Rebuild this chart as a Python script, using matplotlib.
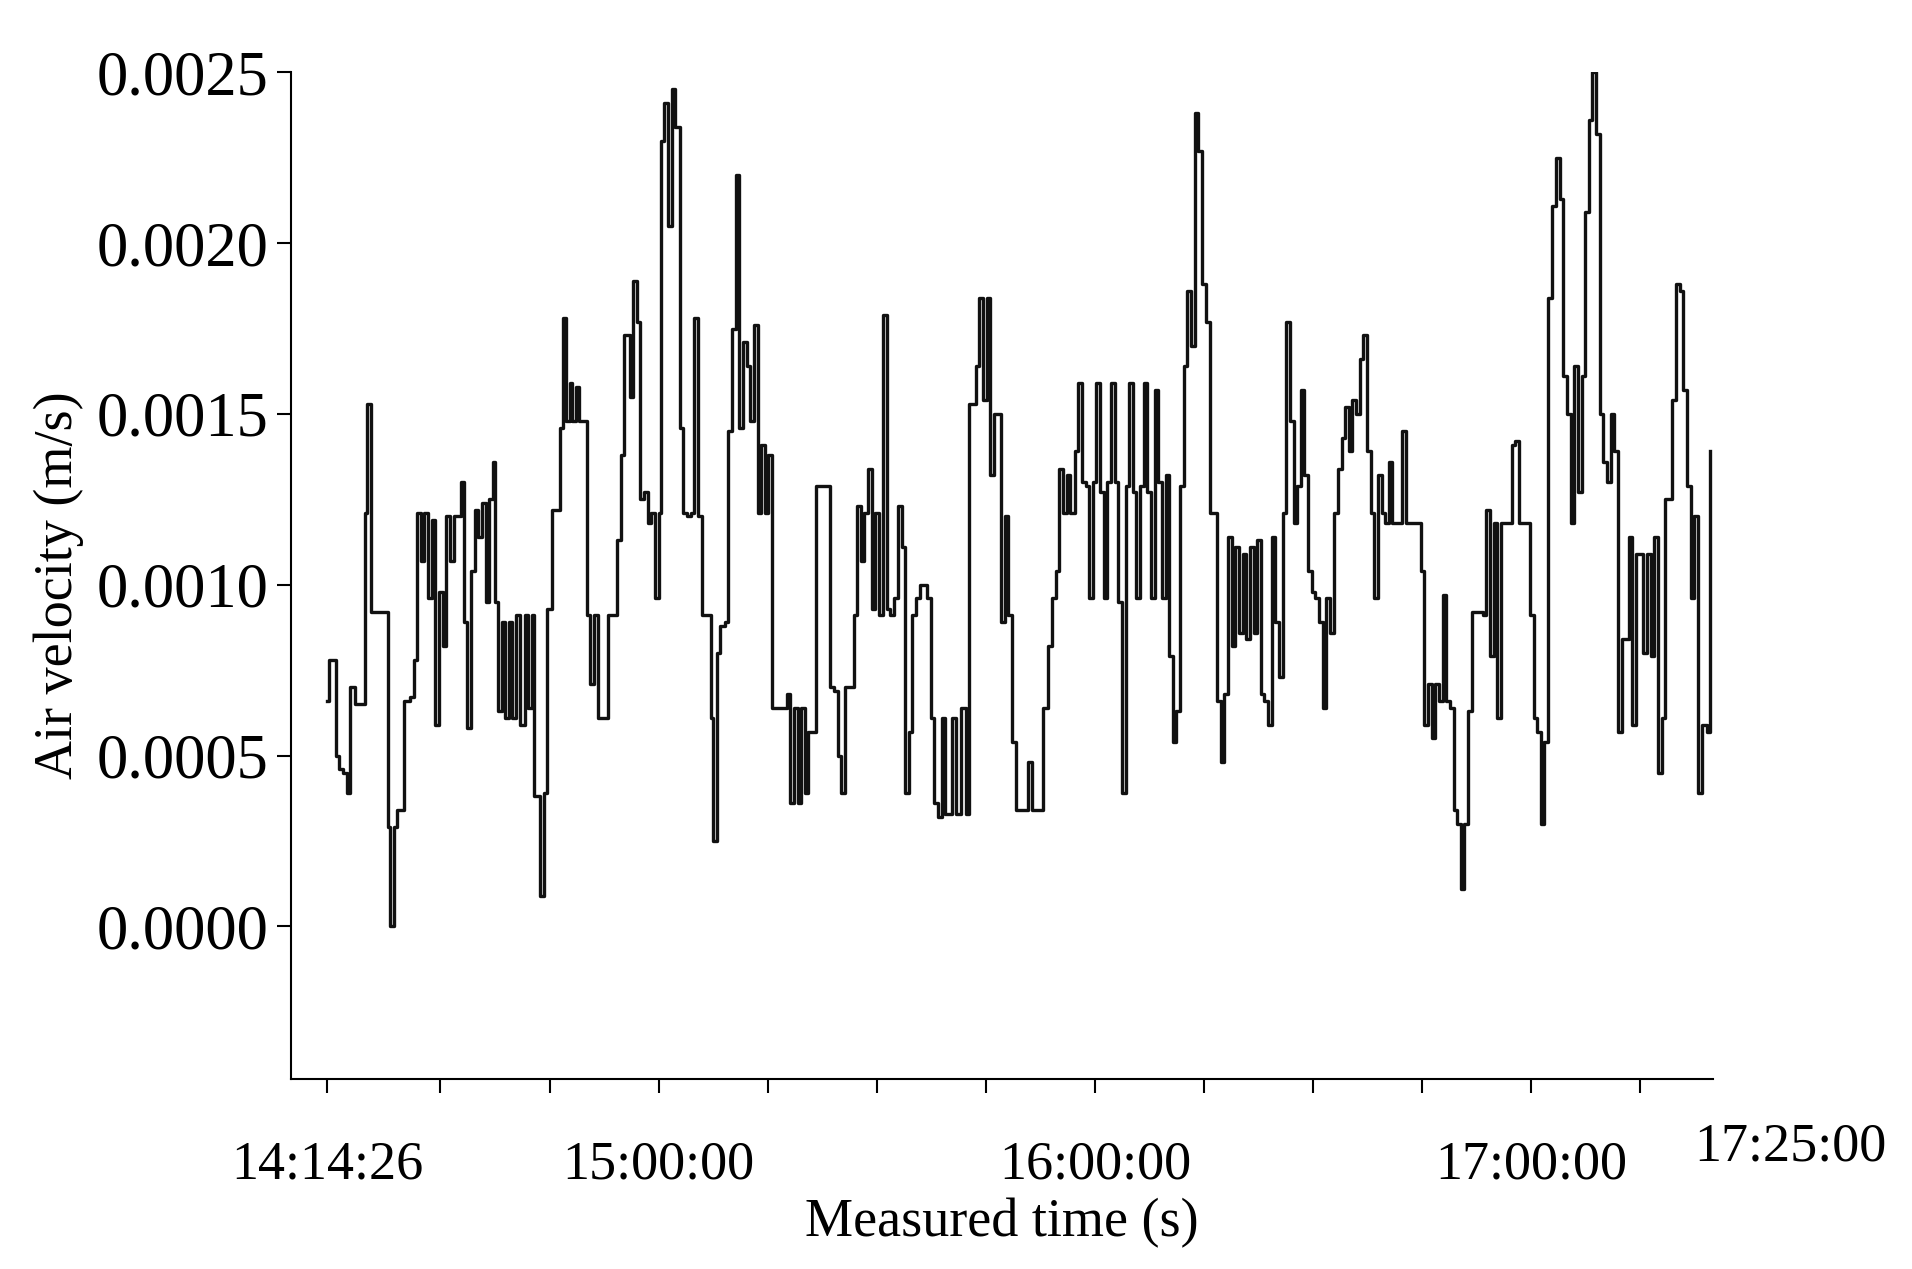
import matplotlib
matplotlib.use("Agg")
import numpy as np
import matplotlib.pyplot as plt

# minutes after 14:00:00
t_min = [14.4, 14.7, 15.6, 16.1, 16.6, 17.1, 17.6, 18.3, 19.1, 19.6, 19.9, 20.4, 22.5, 22.8, 23.1, 23.6, 24.0, 24.8, 25.0, 25.8,
         26.3, 26.8, 27.3, 27.8, 28.3, 28.8, 29.3, 29.8, 30.3, 30.7, 31.3, 31.8, 32.5, 32.8, 33.2, 33.7, 34.2, 34.7, 35.2, 35.7,
         36.2, 36.7, 37.2, 37.5, 37.9, 38.4, 38.9, 39.4, 39.9, 40.4, 40.9, 41.6, 42.1, 42.6, 42.9, 43.4, 43.7, 44.2, 44.7, 45.3,
         45.9, 46.4, 46.9, 47.3, 47.8, 48.1, 48.6, 49.1, 49.6, 50.1, 50.6, 51.1, 51.6, 52.5, 53.0, 53.8, 54.3, 54.8, 55.3, 56.0,
         56.5, 57.0, 57.5, 58.0, 58.5, 59.0, 59.5, 60.0, 60.3, 60.8, 61.3, 61.8, 62.3, 62.9, 63.4, 63.9, 64.4, 64.9, 65.4, 65.9,
         66.7, 67.2, 67.5, 68.0, 68.5, 69.1, 69.6, 70.1, 70.6, 71.1, 71.6, 72.1, 72.6, 73.1, 73.6, 74.1, 74.6, 75.1, 75.6, 76.1,
         77.1, 77.6, 78.1, 78.6, 79.1, 79.6, 80.1, 80.6, 81.6, 83.1, 83.6, 84.1, 84.6, 85.1, 85.6, 86.3, 86.8, 87.3, 87.8, 88.3,
         88.8, 89.3, 89.8, 90.3, 90.8, 91.4, 91.8, 92.3, 92.9, 93.4, 93.9, 94.4, 94.9, 95.4, 95.9, 96.4, 96.9, 97.4, 97.9, 98.4,
         98.9, 99.4, 99.9, 100.4, 100.9, 101.6, 102.2, 102.7, 103.6, 104.1, 104.6, 105.1, 105.6, 106.1, 106.6, 107.1, 107.6, 108.1, 108.6, 109.1,
         110.3, 110.8, 111.3, 111.8, 112.3, 112.8, 113.6, 114.1, 114.6, 115.1, 115.6, 116.1, 116.6, 117.2, 117.7, 118.2, 118.7, 119.2, 119.7, 120.2,
         120.7, 121.2, 121.7, 122.2, 122.7, 123.2, 123.7, 124.2, 124.7, 125.2, 125.7, 126.2, 126.7, 127.2, 127.7, 128.2, 128.7, 129.2, 129.7, 130.2,
         130.7, 131.2, 131.7, 132.2, 132.7, 133.2, 133.7, 134.2, 134.7, 135.3, 135.8, 136.3, 136.8, 137.3, 137.8, 138.3, 138.8, 139.3, 139.8, 140.3,
         140.8, 141.3, 141.8, 142.3, 142.8, 143.3, 143.8, 144.3, 144.8, 145.3, 145.8, 146.3, 146.8, 147.3, 147.8, 148.3, 148.8, 149.3, 149.8, 150.3,
         150.8, 151.3, 151.8, 152.3, 152.9, 153.4, 153.9, 154.4, 154.9, 155.4, 155.9, 156.4, 156.9, 157.4, 157.9, 158.4, 158.9, 159.4, 159.9, 160.4,
         160.9, 161.4, 162.2, 162.7, 163.2, 164.2, 164.8, 165.3, 165.8, 166.3, 166.8, 167.3, 167.8, 168.3, 168.8, 169.3, 169.8, 170.3, 170.8, 171.3,
         171.8, 172.8, 173.3, 173.8, 174.3, 174.8, 175.3, 175.8, 176.8, 177.3, 177.8, 178.3, 179.3, 179.8, 180.3, 180.8, 181.3, 181.8, 182.3, 182.9,
         183.4, 183.9, 184.4, 184.9, 185.4, 185.9, 186.4, 186.9, 187.4, 187.9, 188.4, 188.9, 189.4, 189.9, 190.4, 190.9, 191.4, 191.9, 192.4, 192.9,
         193.4, 193.9, 194.4, 194.9, 195.4, 195.9, 196.4, 196.9, 197.4, 197.9, 198.4, 198.9, 199.4, 199.9, 200.4, 200.9, 201.4, 201.9, 202.4, 202.9,
         203.4, 204.1, 204.6]

# air velocity in 1e-4 m/s
vel = [6.6, 7.8, 5.0, 4.6, 4.5, 3.9, 7.0, 6.5, 6.5, 12.1, 15.3, 9.2, 9.2, 2.9, 0.0, 2.9, 3.4, 3.4, 6.6, 6.7,
       7.8, 12.1, 10.7, 12.1, 9.6, 11.9, 5.9, 9.8, 8.2, 12.0, 10.7, 12.0, 12.0, 13.0, 8.9, 5.8, 10.4, 12.2, 11.4, 12.4,
       9.5, 12.5, 13.6, 9.5, 6.3, 8.9, 6.1, 8.9, 6.1, 9.1, 5.9, 9.1, 6.4, 9.1, 3.8, 3.8, 0.9, 3.9, 9.3, 12.2,
       12.2, 14.6, 17.8, 14.8, 15.9, 14.8, 15.8, 14.8, 14.8, 9.1, 7.1, 9.1, 6.1, 6.1, 9.1, 9.1, 11.3, 13.8, 17.3, 15.5,
       18.9, 17.7, 12.5, 12.7, 11.8, 12.1, 9.6, 12.1, 23.0, 24.1, 20.5, 24.5, 23.4, 14.6, 12.1, 12.0, 12.1, 17.8, 12.0, 9.1,
       9.1, 6.1, 2.5, 8.0, 8.8, 8.9, 14.5, 17.5, 22.0, 14.6, 17.1, 16.4, 14.8, 17.6, 12.1, 14.1, 12.1, 13.8, 6.4, 6.4,
       6.4, 6.8, 3.6, 6.4, 3.6, 6.4, 3.9, 5.7, 12.9, 12.9, 7.0, 6.9, 5.0, 3.9, 7.0, 7.0, 9.1, 12.3, 10.7, 12.1,
       13.4, 9.3, 12.1, 9.1, 17.9, 9.3, 9.1, 9.6, 12.3, 11.1, 3.9, 5.7, 9.1, 9.6, 10.0, 10.0, 9.6, 6.1, 3.6, 3.2,
       6.1, 3.3, 3.3, 6.1, 3.3, 6.4, 3.3, 15.3, 16.4, 18.4, 15.4, 18.4, 13.2, 15.0, 15.0, 8.9, 12.0, 9.1, 5.4, 3.4,
       3.4, 4.8, 3.4, 3.4, 3.4, 6.4, 8.2, 9.6, 10.4, 13.4, 12.1, 13.2, 12.1, 13.9, 15.9, 13.0, 12.9, 9.6, 13.0, 15.9,
       12.7, 9.6, 13.0, 15.9, 13.0, 9.5, 3.9, 12.9, 15.9, 12.7, 9.6, 12.9, 15.9, 12.7, 9.6, 15.7, 13.0, 9.6, 13.2, 7.9,
       5.4, 6.3, 12.9, 16.4, 18.6, 17.0, 23.8, 22.7, 18.8, 17.7, 12.1, 12.1, 6.6, 4.8, 6.8, 11.4, 8.2, 11.1, 8.6, 10.9,
       8.4, 11.1, 8.6, 11.3, 6.8, 6.6, 5.9, 11.4, 8.9, 7.3, 12.1, 17.7, 14.8, 11.8, 12.9, 15.7, 13.2, 10.4, 9.8, 9.6,
       8.9, 6.4, 9.6, 8.6, 12.1, 13.4, 14.3, 15.2, 13.9, 15.4, 15.0, 16.6, 17.3, 13.9, 12.1, 9.6, 13.2, 12.1, 11.8, 13.6,
       11.8, 11.8, 14.5, 11.8, 11.8, 11.8, 10.4, 5.9, 7.1, 5.5, 7.1, 6.6, 9.7, 6.6, 6.4, 3.4, 3.0, 1.1, 3.0, 6.3,
       9.2, 9.2, 9.1, 12.2, 7.9, 11.8, 6.1, 11.8, 11.8, 14.1, 14.2, 11.8, 11.8, 9.1, 6.1, 5.7, 3.0, 5.4, 18.4, 21.1,
       22.5, 21.3, 16.1, 15.0, 11.8, 16.4, 12.7, 16.1, 20.9, 23.6, 25.0, 23.2, 15.0, 13.6, 13.0, 15.0, 13.9, 5.7, 8.4, 8.4,
       11.4, 5.9, 10.9, 10.9, 8.0, 10.9, 7.9, 11.4, 4.5, 6.1, 12.5, 12.5, 15.4, 18.8, 18.6, 15.7, 12.9, 9.6, 12.0, 3.9,
       5.9, 5.7, 13.9]

major_ticks = [14 + 26 / 60, 60, 120, 180]
major_labels = ["14:14:26", "15:00:00", "16:00:00", "17:00:00"]
minor_ticks = [30, 45, 75, 90, 105, 135, 150, 165, 195]
y_ticks = [0.0, 0.0005, 0.0010, 0.0015, 0.0020, 0.0025]

plt.rcParams["font.family"] = "Liberation Serif"

fig = plt.figure(figsize=(19.12, 12.69), dpi=100)
ax = fig.add_axes([0.152, 0.150, 0.744, 0.793])

ax.plot(t_min, np.array(vel) * 1e-4, drawstyle="steps-post", color="#111111", lw=2.4)

ax.set_xlim(9.4, 205.0)
ax.set_ylim(-0.000446, 0.0025)
ax.spines["top"].set_visible(False)
ax.spines["right"].set_visible(False)
for s in ("left", "bottom"):
    ax.spines[s].set_linewidth(1.5)

ax.set_yticks(y_ticks)
ax.set_yticklabels([f"{v:.4f}" for v in y_ticks])
ax.set_xticks(major_ticks)
ax.set_xticklabels(major_labels)
ax.set_xticks(minor_ticks, minor=True)
ax.tick_params(axis="both", which="both", direction="out", width=1.5)
ax.tick_params(axis="y", length=10, pad=6, labelsize=45)
ax.tick_params(axis="x", which="major", length=10, pad=34, labelsize=39)
ax.tick_params(axis="x", which="minor", length=10)
ax.text(0.987, -0.068, "17:25:00", transform=ax.transAxes, fontsize=39, ha="left", va="center")

ax.set_xlabel("Measured time (s)", fontsize=39)
ax.xaxis.set_label_coords(0.5, -0.118)
ax.set_ylabel("Air velocity (m/s)", fontsize=39)
ax.yaxis.set_label_coords(-0.145, 0.49)

fig.savefig("out.png", dpi=100, facecolor="white")
